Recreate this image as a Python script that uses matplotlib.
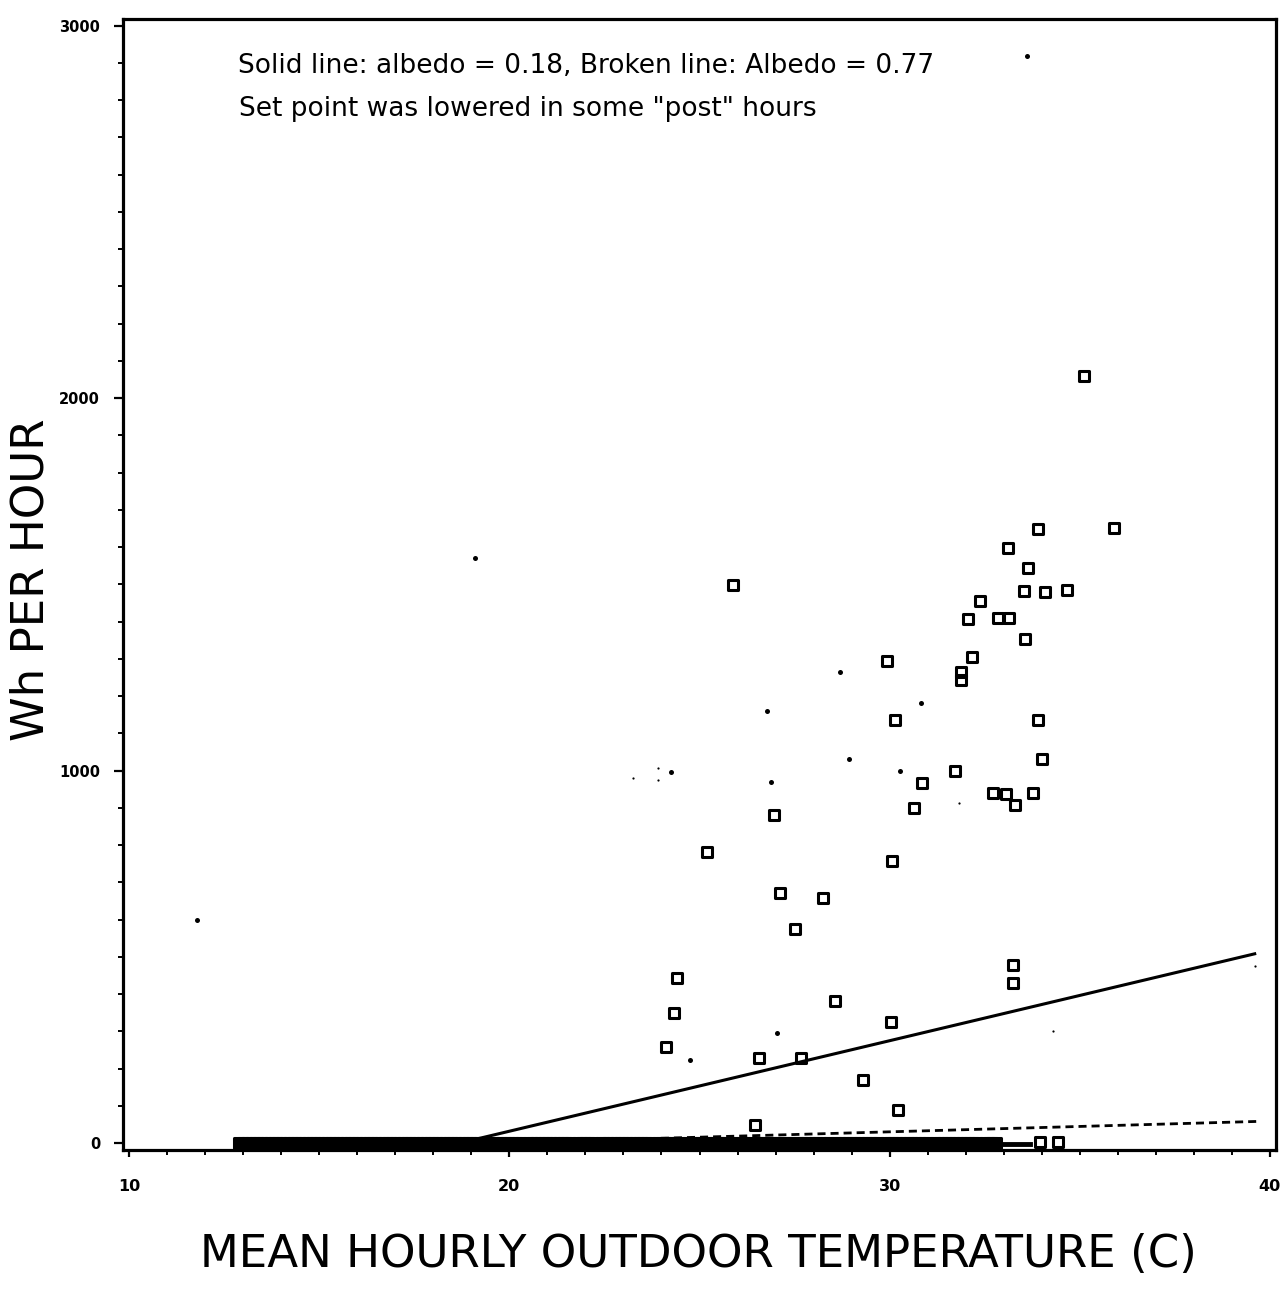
#!/usr/bin/env python3
"""
Consumo horario do ar condicionado vs temperatura externa media.
Quadrados: horas com consumo; pontos: horas "post"; linhas: ajustes por albedo.
"""

import numpy as np
import matplotlib
matplotlib.use("Agg")
import matplotlib.pyplot as plt
from matplotlib.markers import MarkerStyle
from matplotlib.ticker import MultipleLocator, FixedLocator

# --- dados ---

# horas com consumo (quadrados)
sq_temp = [35.10, 33.89, 35.89, 33.12, 33.63, 25.87, 33.53, 34.08, 34.66, 32.37,
           32.86, 33.15, 32.07, 33.55, 29.93, 32.16, 31.88, 31.88, 30.14, 33.91,
           34.01, 31.73, 30.84, 32.71, 33.07, 33.29, 33.76, 30.64, 26.97, 25.21,
           30.06, 27.11, 28.24, 27.51, 24.41, 33.24, 33.24, 24.32, 28.56, 30.04,
           24.12, 26.56, 27.66, 29.30, 30.22, 26.45, 33.95, 34.43]
sq_wh = [2060, 1648, 1650, 1598, 1545, 1497, 1483, 1479, 1485, 1455,
         1410, 1410, 1406, 1352, 1293, 1304, 1266, 1242, 1135, 1137,
         1030, 1000, 967, 940, 938, 908, 941, 899, 881, 782,
         756, 672, 657, 575, 442, 478, 430, 348, 381, 326,
         259, 228, 229, 170, 88, 48, 2, 2]

# horas com consumo zero (faixa densa junto ao eixo)
band_temp = [
    12.9, 13.0, 13.1, 13.2, 13.3, 13.4, 13.5, 13.6, 13.7, 13.8, 13.9,
    14.0, 14.1, 14.2, 14.3, 14.4, 14.5, 14.6, 14.7, 14.8, 14.9,
    15.0, 15.1, 15.2, 15.3, 15.4, 15.5, 15.6, 15.7, 15.8, 15.9,
    16.0, 16.1, 16.2, 16.3, 16.4, 16.5, 16.6, 16.7, 16.8, 16.9,
    17.0, 17.1, 17.2, 17.3, 17.4, 17.5, 17.6, 17.7, 17.8, 17.9,
    18.0, 18.1, 18.2, 18.3, 18.4, 18.5, 18.6, 18.7, 18.8, 18.9,
    19.0, 19.1, 19.2, 19.3, 19.4, 19.5, 19.6, 19.7, 19.8, 19.9,
    20.0, 20.1, 20.2, 20.3, 20.5, 20.6, 20.7, 20.8, 20.9,
    21.0, 21.1, 21.2, 21.3, 21.4, 21.5, 21.6, 21.8, 21.9,
    22.0, 22.1, 22.2, 22.4, 22.5, 22.6, 22.7, 22.8, 22.9,
    23.0, 23.1, 23.2, 23.3, 23.4, 23.5, 23.6, 23.7, 23.9,
    24.0, 24.1, 24.2, 24.3, 24.4, 24.5, 24.7, 24.8, 24.9,
    25.0, 25.1, 25.2, 25.3, 25.4, 25.5, 25.6, 25.7, 25.8,
    26.0, 26.1, 26.2, 26.3, 26.5, 26.6, 26.7, 26.8, 26.9,
    27.0, 27.1, 27.3, 27.4, 27.5, 27.6, 27.7, 27.8, 27.9,
    28.0, 28.1, 28.2, 28.3, 28.4, 28.6, 28.7, 28.8, 28.9,
    29.0, 29.1, 29.2, 29.3, 29.4, 29.5, 29.6, 29.7, 29.9,
    30.0, 30.1, 30.2, 30.3, 30.4, 30.5, 30.6, 30.7, 30.8, 30.9,
    31.0, 31.2, 31.3, 31.4, 31.5, 31.6, 31.7, 31.8, 31.9,
    32.0, 32.1, 32.2, 32.3, 32.5, 32.6, 32.7, 32.8,
]
band_wh = np.zeros(len(band_temp))

# trecho curto no fim da faixa
bar_temp = [32.8, 33.7]
bar_wh = [-2, -2]

# horas "post" (pontos cheios)
dot_temp = [33.6, 19.1, 11.78, 28.69, 26.78, 30.83, 24.26, 26.88, 28.92, 30.26, 27.05, 24.75]
dot_wh = [2918, 1571, 600, 1264, 1160, 1181, 995, 969, 1031, 998, 295, 222]

# pontos muito pequenos
speck_temp = [23.92, 23.24, 23.92, 31.82, 34.29, 39.61]
speck_wh = [1008, 980, 976, 912, 300, 474]

# ajustes: albedo 0.18 (cheia) e 0.77 (tracejada)
solid_temp = [13.0, 18.7, 39.6]
solid_wh = [0, 0, 508]
broken_temp = [13.0, 19.6, 39.7]
broken_wh = [0, 0, 58]

x_ticks = [10, 20, 30, 40]
y_ticks = [0, 1000, 2000, 3000]


def main():
    W, H = 1284, 1294
    fig = plt.figure(figsize=(W / 100, H / 100), dpi=100)
    ax = fig.add_axes([123 / W, 1 - 1150 / H, 1153 / W, 1131 / H])

    ax.plot(solid_temp, solid_wh, color="black", linewidth=2.2, zorder=1)
    ax.plot(broken_temp, broken_wh, color="black", linewidth=2.0,
            dashes=(2.9, 1.8), zorder=1)

    sq = MarkerStyle("s", joinstyle="round")
    # faixa: quadrados tao sobrepostos que ficam cheios
    ax.plot(band_temp, band_wh, linestyle="none", marker=sq, markersize=7,
            markeredgewidth=2.2, color="black", markerfacecolor="black", zorder=2)
    ax.plot(bar_temp, bar_wh, color="black", linewidth=3.5, zorder=2)
    ax.plot(sq_temp, sq_wh, linestyle="none", marker=sq, markersize=6.5,
            markeredgewidth=2.2, color="black", markerfacecolor="none", zorder=3)
    ax.plot(dot_temp, dot_wh, linestyle="none", marker="o", markersize=3.6,
            markeredgewidth=0, color="black", zorder=3)
    ax.plot(speck_temp, speck_wh, linestyle="none", marker="o", markersize=1.6,
            markeredgewidth=0, color="black", zorder=3)

    ax.set_xlim(9.84, 40.16)
    ax.set_ylim(-18.8, 3018)

    ax.xaxis.set_major_locator(FixedLocator(x_ticks))
    ax.xaxis.set_minor_locator(MultipleLocator(1))
    ax.yaxis.set_major_locator(FixedLocator(y_ticks))
    ax.yaxis.set_minor_locator(MultipleLocator(100))
    ax.set_xticklabels([str(v) for v in x_ticks], fontsize=11.5, fontweight="bold")
    ax.set_yticklabels([str(v) for v in y_ticks], fontsize=10.5, fontweight="bold")

    ax.tick_params(axis="x", which="major", direction="out", length=5, width=1.6, pad=16)
    ax.tick_params(axis="x", which="minor", direction="out", length=3.5, width=1.4)
    ax.tick_params(axis="y", which="major", direction="out", length=6.5, width=1.6, pad=10)
    ax.tick_params(axis="y", which="minor", direction="out", length=3.5, width=1.4)

    for side in ["left", "right", "top", "bottom"]:
        ax.spines[side].set_linewidth(2.3)

    # textos
    fig.text(238 / W, 1 - 73 / H,
             "Solid line: albedo = 0.18, Broken line: Albedo = 0.77",
             fontsize=19, va="baseline", ha="left")
    fig.text(239 / W, 1 - 116 / H,
             'Set point was lowered in some "post" hours',
             fontsize=19, va="baseline", ha="left")
    fig.text(698 / W, 1 - 1267 / H, "MEAN HOURLY OUTDOOR TEMPERATURE (C)",
             fontsize=32.5, va="baseline", ha="center")
    fig.text(44 / W, 1 - 580 / H, "Wh PER HOUR", fontsize=32.5, rotation=90,
             rotation_mode="anchor", va="baseline", ha="center")

    fig.savefig("out.png", dpi=100, facecolor="white")


if __name__ == "__main__":
    main()
